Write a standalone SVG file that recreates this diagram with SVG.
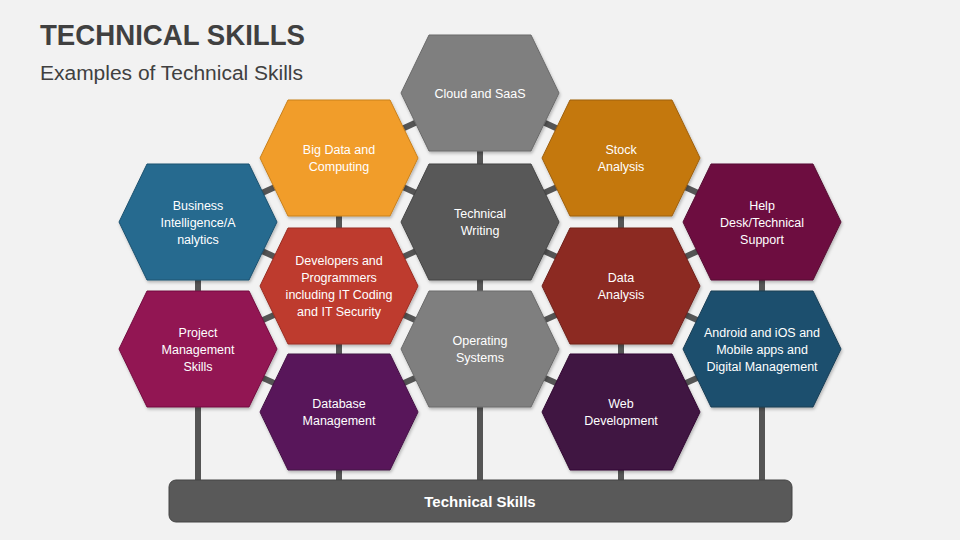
<svg xmlns="http://www.w3.org/2000/svg" width="960" height="540" viewBox="0 0 960 540">
<defs>
<polygon id="hex" points="-79,0 -51,-58 51,-58 79,0 51,58 -51,58"/>
<filter id="sh" x="-10%" y="-10%" width="120%" height="130%">
<feDropShadow dx="1" dy="2" stdDeviation="1.5" flood-color="#000" flood-opacity="0.25"/>
</filter>
</defs>
<style>
.t{font-family:"Liberation Sans",Arial,sans-serif;font-size:12.5px;fill:#fff;text-anchor:middle}
.c{stroke:#555;stroke-width:6;fill:none}
.h{filter:url(#sh);stroke-width:1}
</style>
<rect width="960" height="540" fill="#f2f2f2"/>
<text x="40" y="45" font-family="Liberation Sans,Arial,sans-serif" font-weight="bold" font-size="30" fill="#404040" textLength="265" lengthAdjust="spacingAndGlyphs">TECHNICAL SKILLS</text>
<text x="40" y="80" font-family="Liberation Sans,Arial,sans-serif" font-size="20" fill="#404040" textLength="263" lengthAdjust="spacingAndGlyphs">Examples of Technical Skills</text>
<g id="connectors" class="c">
<line x1="198" y1="222" x2="198" y2="480"/>
<line x1="339" y1="158" x2="339" y2="480"/>
<line x1="480" y1="93" x2="480" y2="480"/>
<line x1="621" y1="158" x2="621" y2="480"/>
<line x1="762" y1="222" x2="762" y2="480"/>
<line x1="198" y1="222" x2="339" y2="158"/>
<line x1="198" y1="222" x2="339" y2="286"/>
<line x1="198" y1="349" x2="339" y2="286"/>
<line x1="198" y1="349" x2="339" y2="412"/>
<line x1="339" y1="158" x2="480" y2="93"/>
<line x1="339" y1="158" x2="480" y2="222"/>
<line x1="339" y1="286" x2="480" y2="222"/>
<line x1="339" y1="286" x2="480" y2="349"/>
<line x1="339" y1="412" x2="480" y2="349"/>
<line x1="621" y1="158" x2="480" y2="93"/>
<line x1="621" y1="158" x2="480" y2="222"/>
<line x1="621" y1="286" x2="480" y2="222"/>
<line x1="621" y1="286" x2="480" y2="349"/>
<line x1="621" y1="412" x2="480" y2="349"/>
<line x1="762" y1="222" x2="621" y2="158"/>
<line x1="762" y1="222" x2="621" y2="286"/>
<line x1="762" y1="349" x2="621" y2="286"/>
<line x1="762" y1="349" x2="621" y2="412"/>
</g>
<g id="bar">
<rect x="169" y="480" width="623" height="42" rx="7" fill="#595959" stroke="#454545" stroke-width="1"/>
<text x="480" y="507" font-family="Liberation Sans,Arial,sans-serif" font-weight="bold" font-size="15" fill="#fff" text-anchor="middle">Technical Skills</text>
</g>
<g id="cloud" transform="translate(480,93)">
<use href="#hex" class="h" fill="#7f7f7f" stroke="#6a6a6a"/>
<text class="t" y="4.5">Cloud and SaaS</text>
</g>
<g id="bigdata" transform="translate(339,158)">
<use href="#hex" class="h" fill="#f19d2a" stroke="#c9811c"/>
<text class="t" y="-4">Big Data and</text>
<text class="t" y="13">Computing</text>
</g>
<g id="stock" transform="translate(621,158)">
<use href="#hex" class="h" fill="#c4780c" stroke="#9e600a"/>
<text class="t" y="-4">Stock</text>
<text class="t" y="13">Analysis</text>
</g>
<g id="business" transform="translate(198,222)">
<use href="#hex" class="h" fill="#266a8f" stroke="#1d5270"/>
<text class="t" y="-12.5">Business</text>
<text class="t" y="4.5">Intelligence/A</text>
<text class="t" y="21.5">nalytics</text>
</g>
<g id="techwriting" transform="translate(480,222)">
<use href="#hex" class="h" fill="#595959" stroke="#454545"/>
<text class="t" y="-4">Technical</text>
<text class="t" y="13">Writing</text>
</g>
<g id="help" transform="translate(762,222)">
<use href="#hex" class="h" fill="#6d0f40" stroke="#560b32"/>
<text class="t" y="-12.5">Help</text>
<text class="t" y="4.5">Desk/Technical</text>
<text class="t" y="21.5">Support</text>
</g>
<g id="developers" transform="translate(339,286)">
<use href="#hex" class="h" fill="#be3a2e" stroke="#9a2e24"/>
<text class="t" y="-21">Developers and</text>
<text class="t" y="-4">Programmers</text>
<text class="t" y="13">including IT Coding</text>
<text class="t" y="30">and IT Security</text>
</g>
<g id="dataanalysis" transform="translate(621,286)">
<use href="#hex" class="h" fill="#8c2a22" stroke="#70211b"/>
<text class="t" y="-4">Data</text>
<text class="t" y="13">Analysis</text>
</g>
<g id="project" transform="translate(198,349)">
<use href="#hex" class="h" fill="#921452" stroke="#740f41"/>
<text class="t" y="-12.5">Project</text>
<text class="t" y="4.5">Management</text>
<text class="t" y="21.5">Skills</text>
</g>
<g id="os" transform="translate(480,349)">
<use href="#hex" class="h" fill="#7f7f7f" stroke="#6a6a6a"/>
<text class="t" y="-4">Operating</text>
<text class="t" y="13">Systems</text>
</g>
<g id="android" transform="translate(762,349)">
<use href="#hex" class="h" fill="#1f506e" stroke="#173d55"/>
<text class="t" y="-12.5">Android and iOS and</text>
<text class="t" y="4.5">Mobile apps and</text>
<text class="t" y="21.5">Digital Management</text>
</g>
<g id="database" transform="translate(339,412)">
<use href="#hex" class="h" fill="#58185a" stroke="#451246"/>
<text class="t" y="-4">Database</text>
<text class="t" y="13">Management</text>
</g>
<g id="web" transform="translate(621,412)">
<use href="#hex" class="h" fill="#411242" stroke="#320d33"/>
<text class="t" y="-4">Web</text>
<text class="t" y="13">Development</text>
</g>
</svg>
